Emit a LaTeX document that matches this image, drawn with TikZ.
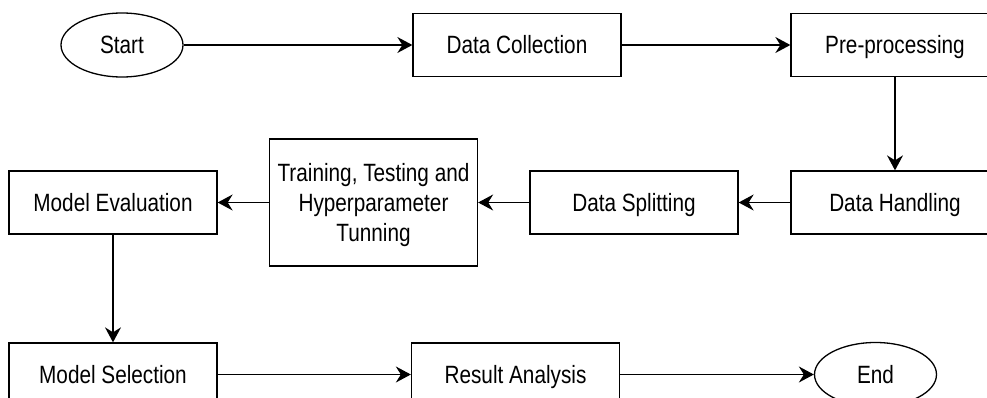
\documentclass[tikz,border=0pt]{standalone}
\usepackage{fontspec}
\setmainfont[FakeStretch=0.83]{Liberation Sans}
\usetikzlibrary{arrows.meta,shapes.geometric}
\begin{document}
\begin{tikzpicture}[x=1pt,y=-1pt,
  label font/.style={font=\fontsize{25}{30}\selectfont, text height=17.9pt, text depth=0pt},
  stepbox/.style={draw, line width=1.3pt, minimum width=208pt, minimum height=63pt,
    inner sep=0pt, align=center, label font},
  terminal/.style={ellipse, draw, line width=1.3pt, minimum width=122pt,
    minimum height=64pt, inner sep=0pt, label font},
  flow/.style={draw, line width=1.3pt, -{Stealth[length=15pt,width=16pt,inset=5pt]}}]
\useasboundingbox (0,0) rectangle (987,398);
% top row
\node[terminal] (start) at (122,45) {Start};
\node[stepbox] (collect) at (517,45) {Data Collection};
\node[stepbox] (pre) at (895,45) {Pre-processing};
% middle row
\node[stepbox] (handle) at (895,202.5) {Data Handling};
\node[stepbox] (split) at (634,202.5) {Data Splitting};
\node[stepbox, minimum height=127pt, text height=77.9pt] (train) at (373.5,202.5)
  {Training, Testing and\\Hyperparameter\\Tunning};
\node[stepbox] (eval) at (113,202.5) {Model Evaluation};
% bottom row
\node[stepbox] (select) at (113,374.5) {Model Selection};
\node[stepbox] (result) at (515.5,374.5) {Result Analysis};
\node[terminal] (end) at (875.5,374.5) {End};
% connectors
\draw[flow] (start) -- (collect);
\draw[flow] (collect) -- (pre);
\draw[flow] (pre) -- (handle);
\draw[flow] (handle) -- (split);
\draw[flow] (split) -- (train);
\draw[flow] (train) -- (eval);
\draw[flow] (eval) -- (select);
\draw[flow] (select) -- (result);
\draw[flow] (result) -- (end);
\end{tikzpicture}
\end{document}
